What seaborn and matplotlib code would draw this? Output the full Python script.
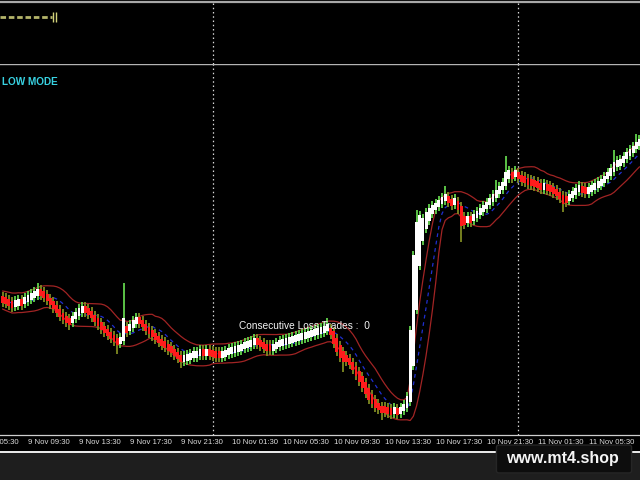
import numpy as np
import pandas as pd
import matplotlib
matplotlib.use("Agg")
import matplotlib.pyplot as plt
import seaborn as sns
from matplotlib.lines import Line2D
from matplotlib.patches import FancyBboxPatch, Rectangle
from matplotlib.transforms import blended_transform_factory


# close of every M15 bar, bar 0 = 9 Nov 07:30
closes = [
    180, 178, 176, 174, 177, 179, 177, 181, 184, 186,
    188, 190, 187, 183, 179, 175, 171, 167, 163, 160,
    158, 157, 163, 168, 172, 173, 170, 166, 162, 158,
    154, 150, 147, 144, 141, 138, 135, 140, 162, 150,
    154, 160, 162, 159, 153, 149, 146, 143, 140, 138,
    135, 133, 130, 128, 125, 122, 118, 122, 124, 125,
    127, 126, 129, 127, 128, 127, 126, 124, 125, 126,
    128, 130, 130, 132, 132, 134, 136, 136, 138, 140,
    138, 135, 133, 130, 132, 133, 136, 138, 138, 140,
    141, 142, 142, 144, 145, 146, 147, 147, 149, 150,
    151, 152, 154, 145, 136, 128, 122, 118, 120, 115,
    110, 104, 98, 92, 86, 80, 76, 72, 70, 68,
    70, 69, 68, 70, 68, 71, 75, 84, 150, 225,
    258, 265, 262, 268, 272, 275, 277, 280, 282, 285,
    278, 275, 280, 270, 254, 255, 262, 260, 264, 268,
    272, 275, 278, 282, 286, 290, 294, 298, 308, 310,
    304, 308, 302, 298, 300, 296, 297, 295, 294, 292,
    294, 292, 290, 288, 286, 282, 276, 280, 284, 288,
    292, 294, 290, 288, 290, 294, 296, 298, 300, 304,
    308, 312, 318, 320, 318, 324, 328, 330, 334, 338,
    340,
]
first_open = 182

# bars whose wick reaches further than the usual one
long_highs = {11: 197, 25: 178, 38: 197, 102: 162, 130: 270, 139: 294,
              155: 300, 158: 324, 192: 330, 199: 346}
long_lows = {21: 150, 36: 126, 56: 112, 67: 118, 83: 124, 107: 108,
             119: 60, 144: 238, 176: 268}

time_labels = [
    "9 Nov 05:30", "9 Nov 09:30", "9 Nov 13:30", "9 Nov 17:30", "9 Nov 21:30",
    "10 Nov 01:30", "10 Nov 05:30", "10 Nov 09:30", "10 Nov 13:30",
    "10 Nov 17:30", "10 Nov 21:30", "11 Nov 01:30", "11 Nov 05:30",
    "11 Nov 09:30",
]
label_bars = [-8 + 16 * i for i in range(len(time_labels))]
day_breaks = [66, 162]          # 10 Nov 00:00, 11 Nov 00:00
progress_end_bar = 15.4          # top sub-window gauge
loss_trades = 0


# ---- derived series (heiken-ashi style open) ----
df = pd.DataFrame({"bar": np.arange(len(closes)), "close": closes})
ha_open = [first_open]
for c in closes[:-1]:
    ha_open.append((ha_open[-1] + c) / 2)
df["open"] = ha_open
df["bull"] = df["close"] >= df["open"]
lo = df[["open", "close"]].min(axis=1)
hi = df[["open", "close"]].max(axis=1)
pad = np.maximum(7 - (hi - lo), 0) / 2
df["bottom"] = lo - pad
df["top"] = hi + pad
df["high"] = [max(long_highs.get(i, 0), t + 4) for i, t in enumerate(df["top"])]
df["low"] = [min(long_lows.get(i, 1e9), b - 4) for i, b in enumerate(df["bottom"])]

roll = df["close"].rolling(10, min_periods=1)
df["mid"] = roll.mean()
half = 9 + 0.45 * roll.std(ddof=0).fillna(0)
df["upper"] = df["mid"] + half
df["lower"] = df["mid"] - half


# ---- figure ----
sns.set_theme(style="dark", rc={"axes.facecolor": "black",
                                "figure.facecolor": "black"})
plt.rcParams["font.family"] = ["Liberation Sans", "DejaVu Sans"]

fig = plt.figure(figsize=(6.4, 4.8), dpi=100, facecolor="black")


def px_axes(x0, y0, x1, y1):
    return fig.add_axes([x0 / 640, 1 - y1 / 480, (x1 - x0) / 640, (y1 - y0) / 480])


ax = px_axes(0, 64, 640, 435)
top = px_axes(0, 2, 640, 64)

x_lo, x_hi = -0.785, 200.16
for a in (ax, top):
    a.set_facecolor("black")
    a.set_xlim(x_lo, x_hi)
    a.set_yticks([])
    for s in ("left", "right"):
        a.spines[s].set_visible(False)
    for b in day_breaks:
        a.axvline(b, color="#d8d8d8", lw=0.9, ls=(0, (1.2, 2.2)), zorder=1)

# bands and middle line
sns.lineplot(data=df, x="bar", y="upper", ax=ax, color="#a12424", lw=0.9, zorder=2)
sns.lineplot(data=df, x="bar", y="lower", ax=ax, color="#a12424", lw=0.9, zorder=2)
sns.lineplot(data=df, x="bar", y="mid", ax=ax, color="#1f2fd0", lw=0.9,
             linestyle=(0, (3, 3)), zorder=2)

# candles
wick_col = np.where(df["bull"], "#62d24c", "#7f8a22")
body_col = np.where(df["bull"], "#ffffff", "#ff1c1c")
ax.vlines(df["bar"], df["low"], df["high"], colors=wick_col, lw=1.3, zorder=3)
ax.bar(df["bar"], df["top"] - df["bottom"], bottom=df["bottom"], width=0.9,
       color=body_col, lw=0, zorder=4)

ax.set_ylim(45, 416)
ax.set_xlabel("")
ax.set_ylabel("")
ax.spines["top"].set_color("#b4b4b4")
ax.spines["top"].set_linewidth(1.0)
ax.spines["bottom"].set_color("#cfcfcf")
ax.spines["bottom"].set_linewidth(0.9)
ax.set_xticks([b for b in label_bars if x_lo <= b <= x_hi])
ax.set_xticklabels([])
ax.tick_params(axis="x", colors="#cfcfcf", length=2.5, width=0.8,
               direction="out", pad=0)

tr = blended_transform_factory(ax.transData, fig.transFigure)
for b, lab in zip(label_bars, time_labels):
    ax.text(b + 0.1, 1 - 443 / 480, lab, transform=tr, ha="left", va="center",
            fontsize=5.6, color="#dcdcdc", clip_on=False)

ax.text(0.003, 1 - 18 / 371, "LOW MODE", transform=ax.transAxes,
        ha="left", va="center", fontsize=7.2, fontweight="bold", color="#38d2e2")
ax.text(239 / 640, 1 - 262 / 371, f"Consecutive Loss Trades :  {loss_trades}",
        transform=ax.transAxes, ha="left", va="center", fontsize=7.3,
        color="#f4f4f4", zorder=6)

# top sub-window
top.set_ylim(0, 1)
top.spines["bottom"].set_visible(False)
top.spines["top"].set_color("#a8a8a8")
top.spines["top"].set_linewidth(1.6)
top.set_xticks([])
top.plot([x_lo, progress_end_bar], [0.76, 0.76], color="#b4b46a", lw=2.0,
         ls=(0, (2, 1)))
top.vlines([progress_end_bar + 0.6, progress_end_bar + 1.3], 0.68, 0.84,
           colors="#d2d27a", lw=1.0)

# bottom strip and watermark
fig.add_artist(Rectangle((0, 0), 1, 27 / 480, transform=fig.transFigure,
                         color="#1e1e1e", zorder=0))
fig.add_artist(Line2D([0, 1], [1 - 452 / 480] * 2, transform=fig.transFigure,
                      color="#eeeeee", lw=1.4, zorder=1))
fig.add_artist(FancyBboxPatch((499 / 640, 1 - 471 / 480), 130 / 640, 24 / 480,
                              boxstyle="round,pad=0.004",
                              transform=fig.transFigure, zorder=2,
                              facecolor="#0d0d0d", edgecolor="#262626", lw=1))
fig.text(562 / 640, 1 - 458 / 480, "www.mt4.shop", ha="center", va="center",
         fontsize=11.5, fontweight="bold", color="#f4f4f4", zorder=3)

fig.savefig("out.png", dpi=100, facecolor="black")
